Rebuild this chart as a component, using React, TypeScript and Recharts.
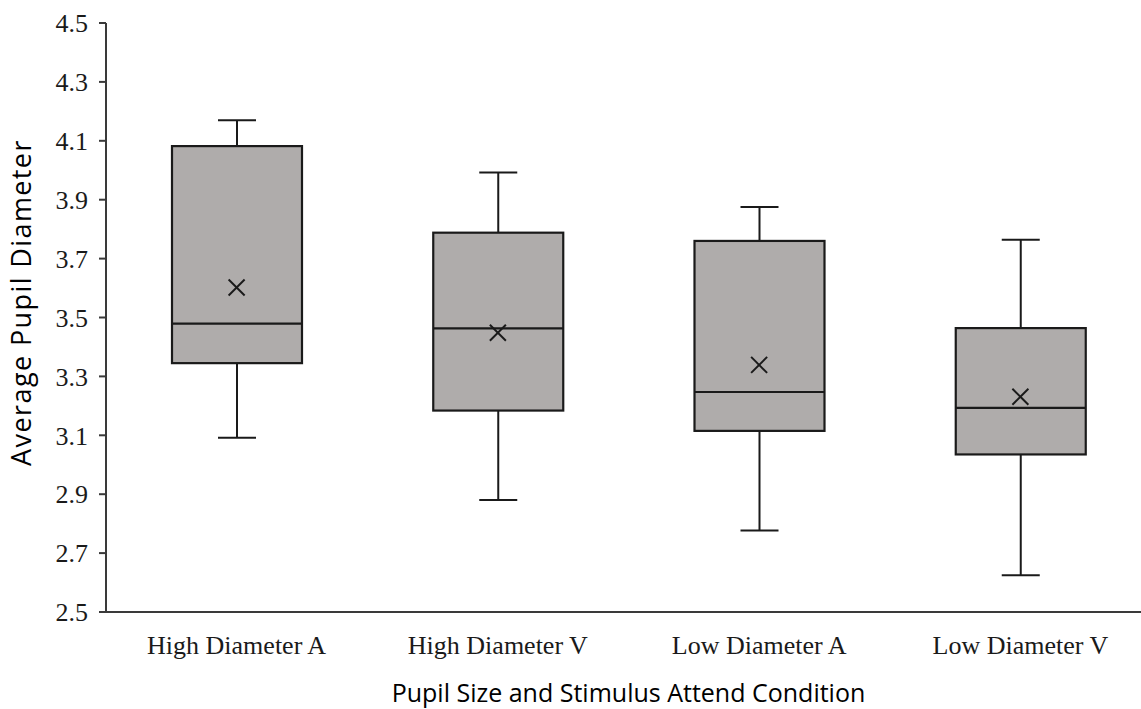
import { Bar, ComposedChart, Label, Scatter, XAxis, YAxis } from "recharts";

const categories = ["High Diameter A", "High Diameter V", "Low Diameter A", "Low Diameter V"];
const whiskerLow = [3.092, 2.88, 2.777, 2.625];
const quartile1 = [3.345, 3.184, 3.115, 3.035];
const medians = [3.479, 3.463, 3.247, 3.193];
const quartile3 = [4.082, 3.788, 3.76, 3.464];
const whiskerHigh = [4.17, 3.992, 3.875, 3.764];
const means = [3.602, 3.448, 3.339, 3.231];
const yTicks = [2.5, 2.7, 2.9, 3.1, 3.3, 3.5, 3.7, 3.9, 4.1, 4.3, 4.5];

const rows = categories.map((name, i) => ({
  name,
  range: [whiskerLow[i], whiskerHigh[i]],
  q1: quartile1[i],
  median: medians[i],
  q3: quartile3[i],
  mean: means[i],
}));

const ink = "#1a1a1a";
const boxFill = "#afacab";
const serif = "'Liberation Serif', 'Times New Roman', serif";
const sans = "'Open Sans', 'Noto Sans', sans-serif";

function BoxShape(props: any) {
  const { x, y, width, height, payload } = props;
  const [lo, hi] = payload.range;
  const top = Math.min(y, y + height);
  const bottom = Math.max(y, y + height);
  // map a value onto the bar's own pixel span (hi -> top, lo -> bottom)
  const py = (v: number) => top + ((hi - v) / (hi - lo)) * (bottom - top);
  const cx = x + width / 2;
  const cap = 19;
  return (
    <g>
      <line x1={cx} x2={cx} y1={top} y2={bottom} stroke={ink} strokeWidth={2} />
      <line x1={cx - cap} x2={cx + cap} y1={top} y2={top} stroke={ink} strokeWidth={2} />
      <line x1={cx - cap} x2={cx + cap} y1={bottom} y2={bottom} stroke={ink} strokeWidth={2} />
      <rect
        x={x}
        y={py(payload.q3)}
        width={width}
        height={py(payload.q1) - py(payload.q3)}
        fill={boxFill}
        stroke={ink}
        strokeWidth={2.2}
      />
      <line
        x1={x}
        x2={x + width}
        y1={py(payload.median)}
        y2={py(payload.median)}
        stroke={ink}
        strokeWidth={2.2}
      />
    </g>
  );
}

function MeanMark(props: any) {
  const { cx, cy } = props;
  const s = 8;
  return (
    <g stroke={ink} strokeWidth={2}>
      <line x1={cx - s} y1={cy - s} x2={cx + s} y2={cy + s} />
      <line x1={cx - s} y1={cy + s} x2={cx + s} y2={cy - s} />
    </g>
  );
}

export default function App() {
  return (
    <div
      style={{
        position: "fixed",
        left: 0,
        top: 0,
        width: 1141,
        height: 709,
        overflow: "hidden",
        background: "#fff",
      }}
    >
      <ComposedChart
        width={1160}
        height={709}
        data={rows}
        margin={{ top: 23, right: 9, bottom: 37, left: 0 }}
      >
        <XAxis
          dataKey="name"
          axisLine={{ stroke: "#3a3a3a", strokeWidth: 2 }}
          tickLine={false}
          tickSize={0}
          tickMargin={24}
          height={60}
          tick={{ fill: ink, fontSize: 26, fontFamily: serif }}
        >
          <Label
            value="Pupil Size and Stimulus Attend Condition"
            position="bottom"
            offset={12}
            fill="#000"
            fontSize={25}
            fontFamily={sans}
          />
        </XAxis>
        <YAxis
          type="number"
          domain={[2.5, 4.5]}
          ticks={yTicks}
          width={106}
          interval={0}
          axisLine={{ stroke: "#3a3a3a", strokeWidth: 2 }}
          tickLine={{ stroke: "#3a3a3a", strokeWidth: 2 }}
          tickSize={7}
          tickMargin={11}
          tickFormatter={(v: number) => v.toFixed(1)}
          tick={{ fill: ink, fontSize: 26, fontFamily: serif }}
        >
          <Label
            value="Average Pupil Diameter"
            angle={-90}
            position="center"
            dx={-32}
            dy={-15}
            fill="#000"
            fontSize={27}
            letterSpacing={1.4}
            fontFamily={sans}
          />
        </YAxis>
        <Bar dataKey="range" barSize={130} shape={BoxShape} isAnimationActive={false} />
        <Scatter dataKey="mean" shape={MeanMark} isAnimationActive={false} />
      </ComposedChart>
    </div>
  );
}
